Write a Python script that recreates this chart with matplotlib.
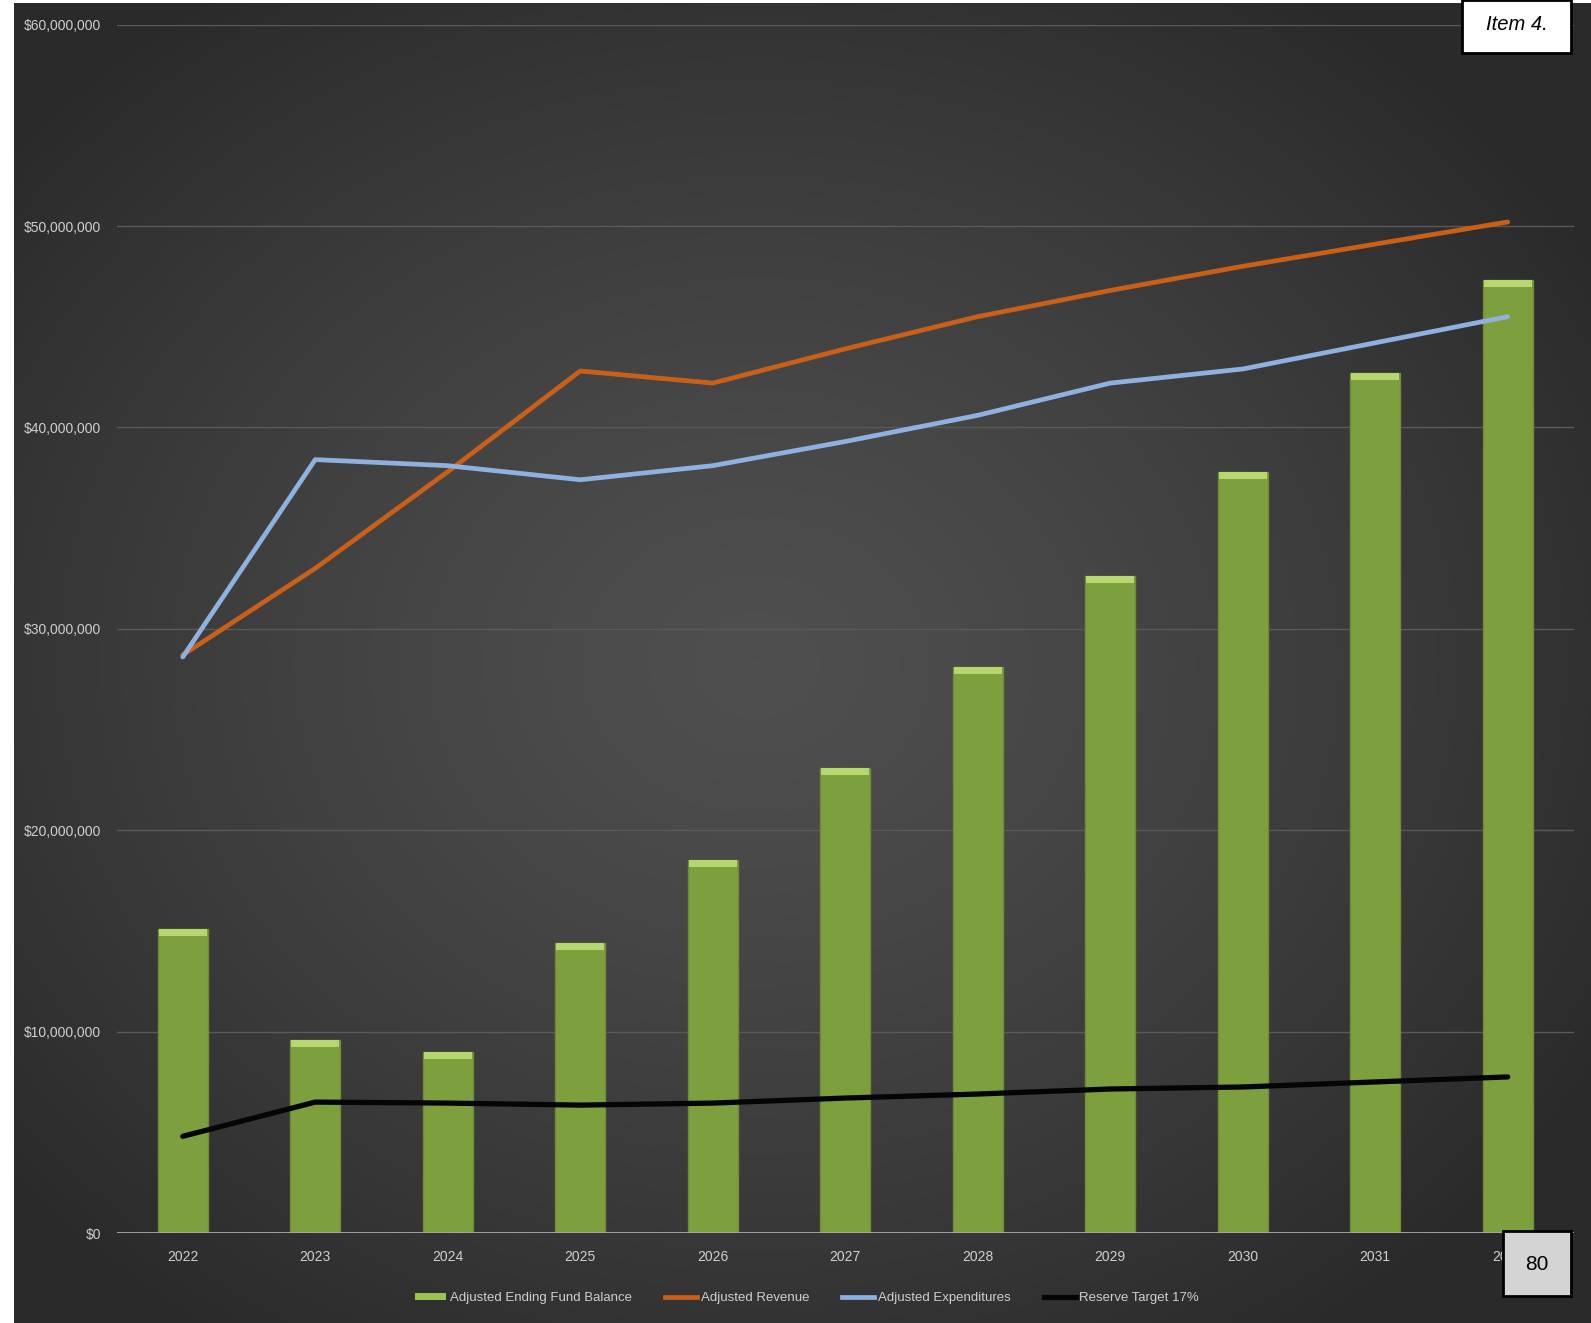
import numpy as np
import matplotlib
matplotlib.use("Agg")
import matplotlib.pyplot as plt
from matplotlib.patches import Rectangle, Patch
from matplotlib.lines import Line2D
import matplotlib.ticker as mticker

years = ["2022", "2023", "2024", "2025", "2026", "2027", "2028", "2029", "2030", "2031", "2032"]
fund_balance = [15.1e6, 9.6e6, 9.0e6, 14.4e6, 18.5e6, 23.1e6, 28.1e6, 32.6e6, 37.8e6, 42.7e6, 47.3e6]
revenue = [28.7e6, 33.0e6, 37.8e6, 42.8e6, 42.2e6, 43.9e6, 45.5e6, 46.8e6, 48.0e6, 49.1e6, 50.2e6]
expenditures = [28.6e6, 38.4e6, 38.1e6, 37.4e6, 38.1e6, 39.3e6, 40.6e6, 42.2e6, 42.9e6, 44.2e6, 45.5e6]
reserve = [4.8e6, 6.5e6, 6.45e6, 6.35e6, 6.45e6, 6.7e6, 6.9e6, 7.15e6, 7.25e6, 7.5e6, 7.75e6]
y_ticks = [0, 10e6, 20e6, 30e6, 40e6, 50e6, 60e6]
legend_labels = ["Adjusted Ending Fund Balance", "Adjusted Revenue", "Adjusted Expenditures", "Reserve Target 17%"]

W, H = 1591, 1323
fig = plt.figure(figsize=(W / 100, H / 100), dpi=100, facecolor="white")

# background panel with radial gradient
bg = fig.add_axes([14 / W, 0, 1 - 14 / W, 1 - 3 / H])
bg.set_axis_off()
ny, nx = 400, 480
yy, xx = np.mgrid[0:ny, 0:nx]
cx, cy = nx * 0.47, ny * 0.50
r = np.sqrt(((xx - cx) / (nx * 0.62)) ** 2 + ((yy - cy) / (ny * 0.62)) ** 2)
r = np.clip(r, 0, 1)
v = 0.31 - (0.31 - 0.165) * r ** 1.3
img = np.dstack([v, v, v])
bg.imshow(img, extent=[0, 1, 0, 1], aspect="auto", origin="upper", interpolation="bilinear")
bg.set_xlim(0, 1)
bg.set_ylim(0, 1)

fam = ["Liberation Sans", "DejaVu Sans"]
tick_col = "#cfcfcf"

ax = fig.add_axes([116.5 / W, (H - 1233) / H, (1574 - 116.5) / W, (1233 - 24.6) / H])
ax.set_facecolor("none")
x = np.arange(len(years))
bw = 0.38
ax.bar(x, fund_balance, width=bw, color="#7e9f3e", edgecolor="#6f8d35", linewidth=1, zorder=2)
hl = 0.35e6
ax.bar(x, [hl] * len(x), bottom=np.array(fund_balance) - hl, width=bw * 0.96,
       color="#b8d66e", linewidth=0, zorder=3)

ax.plot(x, revenue, color="#c9601a", lw=3.4, solid_capstyle="round", zorder=4)
ax.plot(x, expenditures, color="#8fb1e0", lw=3.4, solid_capstyle="round", zorder=4)
ax.plot(x, reserve, color="#050505", lw=3.8, solid_capstyle="round", zorder=4)

ax.set_xlim(-0.5, len(years) - 0.5)
ax.set_ylim(0, 60e6)
ax.set_yticks(y_ticks)
ax.yaxis.set_major_formatter(mticker.FuncFormatter(lambda v, p: "${:,.0f}".format(v)))
ax.set_xticks(x)
ax.set_xticklabels(years)
for s in ax.spines.values():
    s.set_visible(False)
ax.axhline(0, color="#a9a9a9", lw=2, zorder=5)
ax.grid(axis="y", color="#5a5a5a", lw=1, zorder=0)
ax.set_axisbelow(True)
ax.tick_params(length=0, colors=tick_col)
ax.tick_params(axis="y", pad=11)
ax.tick_params(axis="x", pad=12)
for lab in ax.get_yticklabels() + ax.get_xticklabels():
    lab.set_family(fam)
    lab.set_fontsize(10)
    lab.set_color(tick_col)

handles = [
    Patch(facecolor="#9cc24f", edgecolor="none"),
    Line2D([0], [0], color="#c9601a", lw=3.4),
    Line2D([0], [0], color="#8fb1e0", lw=3.4),
    Line2D([0], [0], color="#050505", lw=3.8),
]
leg = fig.legend(handles, legend_labels, loc="center", bbox_to_anchor=(807 / W, 1 - 1298 / H),
                 ncol=4, frameon=False, handlelength=2.4, handleheight=0.5, handletextpad=0.3,
                 columnspacing=2.5, prop={"family": fam, "size": 9.5})
for t in leg.get_texts():
    t.set_color(tick_col)

# "Item 4." box
fig.patches.append(Rectangle((1462 / W, 1 - 53 / H), (1571 - 1462) / W, 53 / H,
                             transform=fig.transFigure, facecolor="white", edgecolor="black",
                             lw=2, zorder=10))
fig.text(1517 / W, 1 - 24 / H, "Item 4.", ha="center", va="center", fontsize=14.5,
         style="italic", family="Liberation Sans", color="black", zorder=11)

# page number box
fig.patches.append(Rectangle((1503 / W, 1 - 1296 / H), (1571 - 1503) / W, (1296 - 1231) / H,
                             transform=fig.transFigure, facecolor="#d4d4d4", edgecolor="black",
                             lw=2, zorder=10))
fig.text(1537 / W, 1 - 1265 / H, "80", ha="center", va="center", fontsize=15,
         family="Liberation Sans", color="black", zorder=11)

fig.savefig("out.png", dpi=100, facecolor="white")
